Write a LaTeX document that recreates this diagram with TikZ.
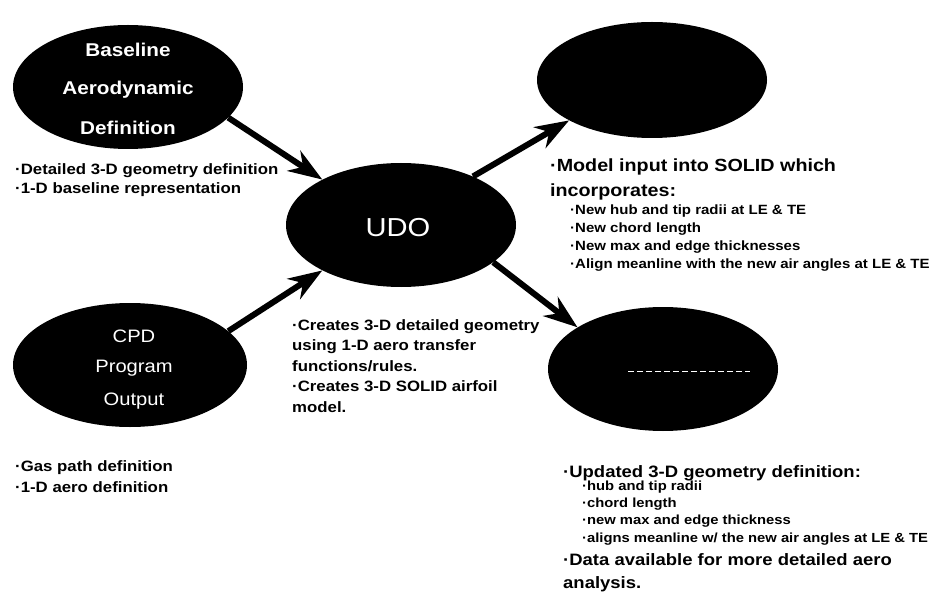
\documentclass[tikz,border=0pt]{standalone}
\usepackage{fontspec}
\setmainfont{Liberation Sans}[FakeStretch=1.12]
\usetikzlibrary{shapes.geometric,arrows.meta}
\begin{document}
\begin{tikzpicture}[x=1pt,y=-1pt,
  blob/.style={ellipse,fill=black,draw=none,inner sep=0pt,minimum width=230pt,minimum height=124pt},
  wlab/.style={text=white,inner sep=0pt,anchor=base},
  blab/.style={wlab,font=\bfseries\fontsize{18.5}{22}\selectfont},
  rlab/.style={wlab,font=\fontsize{18}{22}\selectfont},
  desc/.style={inner sep=0pt,anchor=base west,align=left,font=\bfseries\fontsize{15}{20.5}\selectfont},
  bigdesc/.style={inner sep=0pt,anchor=base west,align=left,font=\bfseries\fontsize{17.6}{25}\selectfont},
  subdesc/.style={inner sep=0pt,anchor=base west,align=left,font=\bfseries\fontsize{13.4}{18}\selectfont},
  flow/.style={line width=6pt,-{Stealth[length=34pt,width=24pt,inset=11pt]}},
  ghost/.style={white,line width=1pt,dash pattern=on 6pt off 3pt}
]
\useasboundingbox[fill=white] (0,0) rectangle (933,593);

% ellipses
\node[blob] (base) at (128,87) {};
\node[blob] (udo) at (401,225) {};
\node[blob,minimum width=234pt] (cpd) at (130,365) {};
\node[blob,minimum height=116pt] (tr) at (652,80) {};
\node[blob] (br) at (663,369) {};

% labels inside ellipses
\node[blab] (l1) at (128,57) {Baseline};
\node[blab] (l2) at (128,95) {Aerodynamic};
\node[blab] (l3) at (128,135) {Definition};
\node[wlab,font=\fontsize{26}{30}\selectfont] (l4) at (398,237) {UDO};
\node[rlab] (l5) at (134,342) {CPD};
\node[rlab] (l6) at (134,372) {Program};
\node[rlab] (l7) at (134,405) {Output};
\coordinate (g1) at (628,371);
\coordinate (g2) at (750,371);
\draw[ghost] (g1) -- (g2);

% arrows
\draw[flow] (base.-17) -- (udo.150);
\draw[flow] (cpd.19) -- (udo.210);
\draw[flow] (udo.34) -- (tr.206);
\draw[flow] (udo.-22) -- (br.154);

% descriptions (anchor = baseline of the last line)
\node[desc,font=\bfseries\fontsize{15}{19}\selectfont] (dA) at (15,194)
  {·Detailed 3-D geometry definition\\·1-D baseline representation};
\node[desc] (dB) at (15,492)
  {·Gas path definition\\·1-D aero definition};
\node[desc] (dU) at (292,412)
  {·Creates 3-D detailed geometry\\using 1-D aero transfer\\functions/rules.\\·Creates 3-D SOLID airfoil\\model.};
\node[bigdesc] (dT) at (550,197)
  {·Model input into SOLID which\\incorporates:};
\node[subdesc] (dTs) at (570,269)
  {·New hub and tip radii at LE \& TE\\·New chord length\\·New max and edge thicknesses\\·Align meanline with the new air angles at LE \& TE};
\node[bigdesc,font=\bfseries\fontsize{16.5}{23}\selectfont] (dR) at (563,477)
  {·Updated 3-D geometry definition:};
\node[subdesc,font=\bfseries\fontsize{13.2}{17.3}\selectfont] (dRs) at (582,542)
  {·hub and tip radii\\·chord length\\·new max and edge thickness\\·aligns meanline w/ the new air angles at LE \& TE};
\node[bigdesc,font=\bfseries\fontsize{16.5}{23}\selectfont] (dR2) at (563,588)
  {·Data available for more detailed aero\\analysis.};
\end{tikzpicture}
\end{document}
